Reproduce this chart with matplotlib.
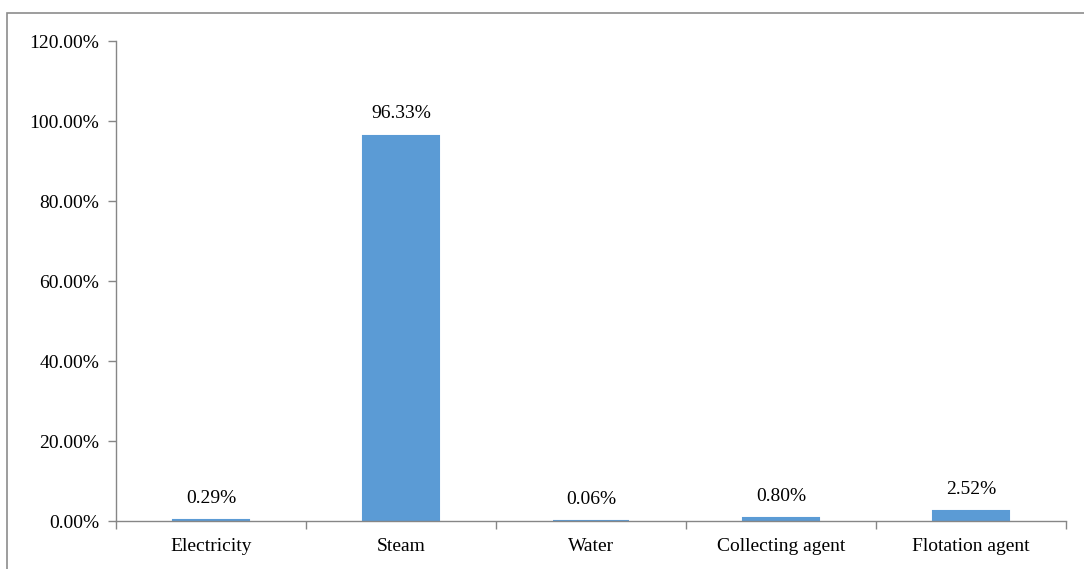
import matplotlib
matplotlib.use('Agg')
import matplotlib.pyplot as plt
from matplotlib.patches import Rectangle
from matplotlib.ticker import FuncFormatter, FixedLocator

plt.rcParams['font.family'] = ['Liberation Serif', 'DejaVu Serif']

categories = ['Electricity', 'Steam', 'Water', 'Collecting agent', 'Flotation agent']
shares = [0.29, 96.33, 0.06, 0.80, 2.52]

bar_color = '#5B9BD5'
axis_color = '#868686'
fs = 14

fig = plt.figure(figsize=(10.84, 5.69), dpi=100)
ax = fig.add_axes([116/1084, 48/569, (1066-116)/1084, (521-41)/569])

x = list(range(len(categories)))
ax.bar(x, shares, width=0.4, color=bar_color, edgecolor=bar_color, linewidth=1.5)

for xi, v in zip(x, shares):
    ax.text(xi, v + 3.3, '%.2f%%' % v, ha='center', va='bottom', fontsize=fs)

ax.set_xlim(-0.5, len(categories) - 0.5)
ax.set_ylim(0, 120)
ax.set_yticks([0, 20, 40, 60, 80, 100, 120])
ax.yaxis.set_major_formatter(FuncFormatter(lambda v, p: '%.2f%%' % v))
ax.set_xticks(x)
ax.set_xticklabels(categories, fontsize=fs)
ax.xaxis.set_minor_locator(FixedLocator([i - 0.5 for i in range(len(categories) + 1)]))
ax.tick_params(axis='x', which='major', length=0, pad=12)
ax.tick_params(axis='x', which='minor', length=6, color=axis_color, width=1)
ax.tick_params(axis='y', length=6, color=axis_color, width=1, labelsize=fs, pad=6)

for s in ['top', 'right']:
    ax.spines[s].set_visible(False)
for s in ['left', 'bottom']:
    ax.spines[s].set_color(axis_color)
    ax.spines[s].set_linewidth(1)

# outer chart border
fig.patches.append(Rectangle((7/1084, -0.1), 1.2, (569-13)/569 + 0.1,
                             transform=fig.transFigure, fill=False,
                             edgecolor='#8c8c8c', linewidth=1.2))

fig.savefig('out.png', dpi=100)
plt.close(fig)
